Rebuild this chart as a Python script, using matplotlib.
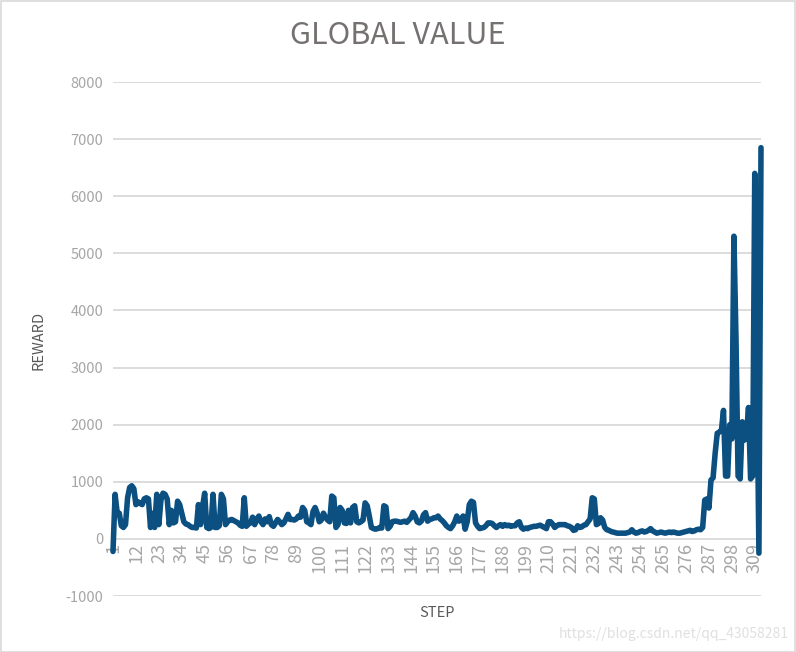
import matplotlib
matplotlib.use("Agg")
import matplotlib.pyplot as plt
from matplotlib.patches import Rectangle
import numpy as np

title = "GLOBAL VALUE"
x_label = "STEP"
y_label = "REWARD"
y_ticks = [-1000, 0, 1000, 2000, 3000, 4000, 5000, 6000, 7000, 8000]
x_tick_step = 11

reward_part1 = [
    -220, 780, 460, 450, 230, 200, 250, 720, 900, 930,
    880, 600, 650, 620, 600, 700, 720, 700, 200, 450,
    200, 780, 250, 680, 800, 780, 700, 250, 500, 280,
    300, 660, 600, 450, 300, 260, 250, 220, 200, 200,
    190, 600, 250, 570, 800, 200, 180, 200, 780, 200,
    200, 230, 780, 700, 250, 300, 330, 340, 320, 300,
    280, 240, 220, 720, 220, 260, 280, 380, 250, 340,
    400, 300, 250, 350, 300, 390, 250, 220, 280, 340,
    300, 250, 280, 350, 430,
]
reward_part2 = [
    340, 340, 330, 350, 400, 380, 550, 500, 300, 280,
    250, 480, 550, 450, 300, 330, 450, 380, 330, 300,
    750, 720, 200, 250, 550, 500, 280, 270, 500, 280,
    550, 580, 300, 280, 300, 330, 630, 580, 400, 200,
    180, 170, 180, 200, 190, 580, 560, 180, 220, 300,
    310, 310, 300, 290, 300, 310, 290, 330, 370, 460,
    400, 300, 280, 310, 420, 460, 310, 340, 350, 370,
    370, 400, 350, 320, 280, 230, 200, 180, 230, 300,
    400, 310, 340, 400, 170, 300, 600, 660, 640, 280,
    220, 180,
]
reward_part3 = [
    190, 200, 230, 280, 280, 270, 230, 200, 230, 250,
    220, 250, 230, 240, 220, 230, 230, 280, 300, 200,
    170, 190, 180, 200, 210, 220, 220, 230, 240, 220,
    200, 180, 300, 300, 260, 200, 230, 250, 250, 250,
    250, 230, 220, 200, 150, 160, 230, 200, 210, 240,
    250, 300, 350, 720, 700, 250, 270, 370, 330, 200,
    160, 150, 130, 120, 110, 100, 100, 100, 100, 100,
    110, 120, 160, 120, 100, 110, 130, 140, 120, 130,
    150, 180, 140, 120, 100, 110, 120, 110, 100, 110,
    120, 110, 120, 110, 100, 100, 110, 120, 130, 140,
    150, 130, 140, 160, 170,
]
reward_part4 = [
    160, 200, 680, 700, 540, 1030, 1070, 1500, 1850, 1870,
    1900, 2250, 1100, 1100, 2000, 1750, 5300, 3500, 1100, 1050,
    2050, 1730, 1800, 2300, 1050, 1100, 6400, 3100, -250, 6850,
]
reward = reward_part1 + reward_part2 + reward_part3 + reward_part4
steps = list(range(1, len(reward) + 1))

font = ["Noto Sans CJK SC", "DejaVu Sans"]

W, H = 796, 652
fig = plt.figure(figsize=(W / 100, H / 100), dpi=100)
fig.patch.set_facecolor("white")
fig.patches.append(Rectangle((0.5 / W, 0.5 / H), 1 - 1.5 / W, 1 - 1.5 / H,
                             transform=fig.transFigure, fill=False,
                             edgecolor="#D9D9D9", lw=1.2))

ax = fig.add_axes([113 / W, 1 - 596 / H, (761 - 113) / W, (596 - 82) / H])

ax.spines["bottom"].set_position(("data", 0))
for s in ["top", "right", "left", "bottom"]:
    ax.spines[s].set_visible(False)

ax.plot(steps, reward, color="#0B5080", lw=4.0, solid_joinstyle="round",
        solid_capstyle="round", zorder=3, clip_on=False)

ax.set_xlim(1, len(reward))
ax.set_ylim(-1000, 8000)
ax.set_yticks(y_ticks)
ax.set_yticklabels([str(v) for v in y_ticks], fontsize=10.5, color="#A6A6A6",
                   family=font)
xt = list(range(1, len(reward) + 1, x_tick_step))
ax.set_xticks(xt)
ax.set_xticklabels([str(v) for v in xt], rotation=90, fontsize=13,
                   color="#A6A6A6", family=font)
ax.tick_params(axis="both", length=0)
ax.tick_params(axis="y", pad=7)
ax.tick_params(axis="x", pad=3)
ax.yaxis.grid(True, color="#D9D9D9", lw=1.3)
ax.set_axisbelow(True)

fig.text(0.5, 1 - 35 / H, title, ha="center", va="center",
         fontsize=22, color="#767171", family=font)
fig.text(38 / W, 1 - 340 / H, y_label, rotation=90, ha="center", va="center",
         fontsize=10.5, color="#595959", family=font)
fig.text(437 / W, 1 - 613 / H, x_label, ha="center", va="center",
         fontsize=10.5, color="#595959", family=font)
fig.text(789 / W, 1 - 634 / H, "https://blog.csdn.net/qq_43058281", ha="right",
         va="center", fontsize=10, color="#E0E0E0", family=font)

fig.savefig("out.png", dpi=100, facecolor="white")
